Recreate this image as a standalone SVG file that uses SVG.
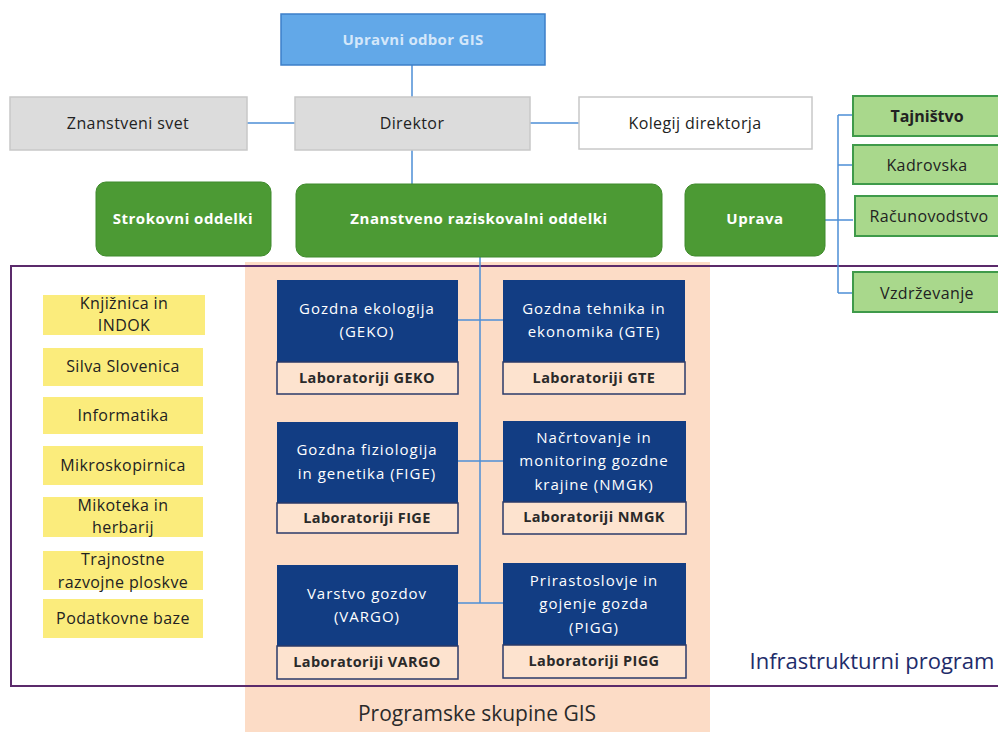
<svg xmlns="http://www.w3.org/2000/svg" width="998" height="732" viewBox="0 0 998 732">
<defs>
<style>
text{font-family:"Open Sans","Liberation Sans",sans-serif;text-anchor:middle;}
.t{font-size:16px;fill:#222;letter-spacing:0.4px;}
.tb{font-size:16px;fill:#222;font-weight:bold;}
.w{font-size:15px;fill:#fff;font-weight:bold;letter-spacing:0.5px;}
.wb{font-size:15px;fill:#fff;letter-spacing:1px;}
.gray{fill:#dcdcdc;stroke:#c8c8c8;stroke-width:1.5;}
.green{fill:#4c9a34;stroke:#3f8a2c;stroke-width:1;}
.lg{fill:#a9d88c;stroke:#3f9a4a;stroke-width:2;}
.yel{fill:#fbec7c;}
.navy{fill:#123d83;}
.lab{fill:#fde3cf;stroke:#2a3a6a;stroke-width:1.5;}
.con{stroke:#4d8fd6;stroke-width:1.5;fill:none;}
.lt{font-size:14.5px;fill:#2a2a2a;font-weight:bold;letter-spacing:0.4px;}
</style>
</defs>
<rect width="998" height="732" fill="#fff"/>
<rect x="245" y="262" width="465" height="470" fill="#fcdcc6"/>
<rect x="11" y="266" width="990" height="420" fill="none" stroke="#5b2a6b" stroke-width="2"/>
<g id="connectors">
<path class="con" d="M412 65V97M247 123H295M530 123H579M412 150V184"/>
<path class="con" d="M825 220H838M838 115V293M838 115H853M838 165H853M838 220H853M838 293H853"/>
<path class="con" d="M480 257V603M458 320H503M458 461H503M458 603H503"/>
</g>
<g id="upravni"><rect x="281" y="14" width="264" height="51" fill="#62a8e8" stroke="#3d7fc9" stroke-width="1.5"/><text x="413" y="45" style="font-size:15px;font-weight:bold;fill:#d4e7fa;letter-spacing:0.3px">Upravni odbor GIS</text></g>
<g id="svet"><rect class="gray" x="10" y="97" width="237" height="53"/><text class="t" x="128" y="129">Znanstveni svet</text></g>
<g id="direktor"><rect class="gray" x="295" y="97" width="235" height="53"/><text class="t" x="412" y="129">Direktor</text></g>
<g id="kolegij"><rect x="579" y="97" width="233" height="52" fill="#fff" stroke="#c8c8c8" stroke-width="1.5"/><text class="t" x="695" y="129">Kolegij direktorja</text></g>
<g id="strokovni"><rect class="green" x="96" y="182" width="175" height="74" rx="10"/><text class="w" x="183" y="224">Strokovni oddelki</text></g>
<g id="znanstveno"><rect class="green" x="296" y="184" width="366" height="73" rx="10"/><text class="w" x="479" y="224">Znanstveno raziskovalni oddelki</text></g>
<g id="uprava"><rect class="green" x="685" y="184" width="140" height="72" rx="10"/><text class="w" x="755" y="224">Uprava</text></g>
<g id="tajnistvo"><rect class="lg" x="853" y="96" width="150" height="40"/><text class="tb" x="927" y="122">Tajništvo</text></g>
<g id="kadrovska"><rect class="lg" x="853" y="145" width="150" height="39"/><text class="t" x="927" y="171">Kadrovska</text></g>
<g id="racunovodstvo"><rect class="lg" x="855" y="196" width="150" height="40"/><text class="t" x="929" y="222">Računovodstvo</text></g>
<g id="vzdrzevanje"><rect class="lg" x="853" y="272" width="150" height="40"/><text class="t" x="927" y="299">Vzdrževanje</text></g>
<g id="knjiznica"><rect class="yel" x="43" y="295" width="162" height="40"/><text class="t" x="124" y="309">Knjižnica in</text><text class="t" x="124" y="331">INDOK</text></g>
<g id="silva"><rect class="yel" x="43" y="348" width="160" height="38"/><text class="t" x="123" y="372">Silva Slovenica</text></g>
<g id="informatika"><rect class="yel" x="43" y="397" width="160" height="37"/><text class="t" x="123" y="421">Informatika</text></g>
<g id="mikroskopirnica"><rect class="yel" x="43" y="446" width="160" height="39"/><text class="t" x="123" y="471">Mikroskopirnica</text></g>
<g id="mikoteka"><rect class="yel" x="43" y="497" width="160" height="40"/><text class="t" x="123" y="511">Mikoteka in</text><text class="t" x="123" y="533">herbarij</text></g>
<g id="trajnostne"><rect class="yel" x="43" y="551" width="160" height="39"/><text class="t" x="123" y="565">Trajnostne</text><text class="t" x="123" y="588">razvojne ploskve</text></g>
<g id="podatkovne"><rect class="yel" x="43" y="599" width="160" height="39"/><text class="t" x="123" y="624">Podatkovne baze</text></g>
<g id="geko"><rect class="navy" x="277" y="280" width="181" height="82"/><text class="wb" x="367" y="314">Gozdna ekologija</text><text class="wb" x="367" y="337">(GEKO)</text><rect class="lab" x="277" y="362" width="181" height="32"/><text class="lt" x="367" y="383">Laboratoriji GEKO</text></g>
<g id="gte"><rect class="navy" x="503" y="280" width="182" height="82"/><text class="wb" x="594" y="314">Gozdna tehnika in</text><text class="wb" x="594" y="337">ekonomika (GTE)</text><rect class="lab" x="503" y="362" width="182" height="32"/><text class="lt" x="594" y="383">Laboratoriji GTE</text></g>
<g id="fige"><rect class="navy" x="277" y="422" width="181" height="81"/><text class="wb" x="367" y="455">Gozdna fiziologija</text><text class="wb" x="367" y="479">in genetika (FIGE)</text><rect class="lab" x="277" y="503" width="181" height="30"/><text class="lt" x="367" y="523">Laboratoriji FIGE</text></g>
<g id="nmgk"><rect class="navy" x="503" y="421" width="183" height="81"/><text class="wb" x="594" y="443">Načrtovanje in</text><text class="wb" x="594" y="466">monitoring gozdne</text><text class="wb" x="594" y="490">krajine (NMGK)</text><rect class="lab" x="503" y="502" width="183" height="32"/><text class="lt" x="594" y="522">Laboratoriji NMGK</text></g>
<g id="vargo"><rect class="navy" x="277" y="565" width="181" height="81"/><text class="wb" x="367" y="599">Varstvo gozdov</text><text class="wb" x="367" y="622">(VARGO)</text><rect class="lab" x="277" y="646" width="181" height="33"/><text class="lt" x="367" y="667">Laboratoriji VARGO</text></g>
<g id="pigg"><rect class="navy" x="503" y="563" width="183" height="82"/><text class="wb" x="594" y="586">Prirastoslovje in</text><text class="wb" x="594" y="609">gojenje gozda</text><text class="wb" x="594" y="633">(PIGG)</text><rect class="lab" x="503" y="645" width="183" height="33"/><text class="lt" x="594" y="666">Laboratoriji PIGG</text></g>
<text x="872" y="669" style="font-size:22px;fill:#1e2c6a">Infrastrukturni program</text>
<text x="477" y="721" style="font-size:21px;fill:#2a2a2a">Programske skupine GIS</text>
</svg>
